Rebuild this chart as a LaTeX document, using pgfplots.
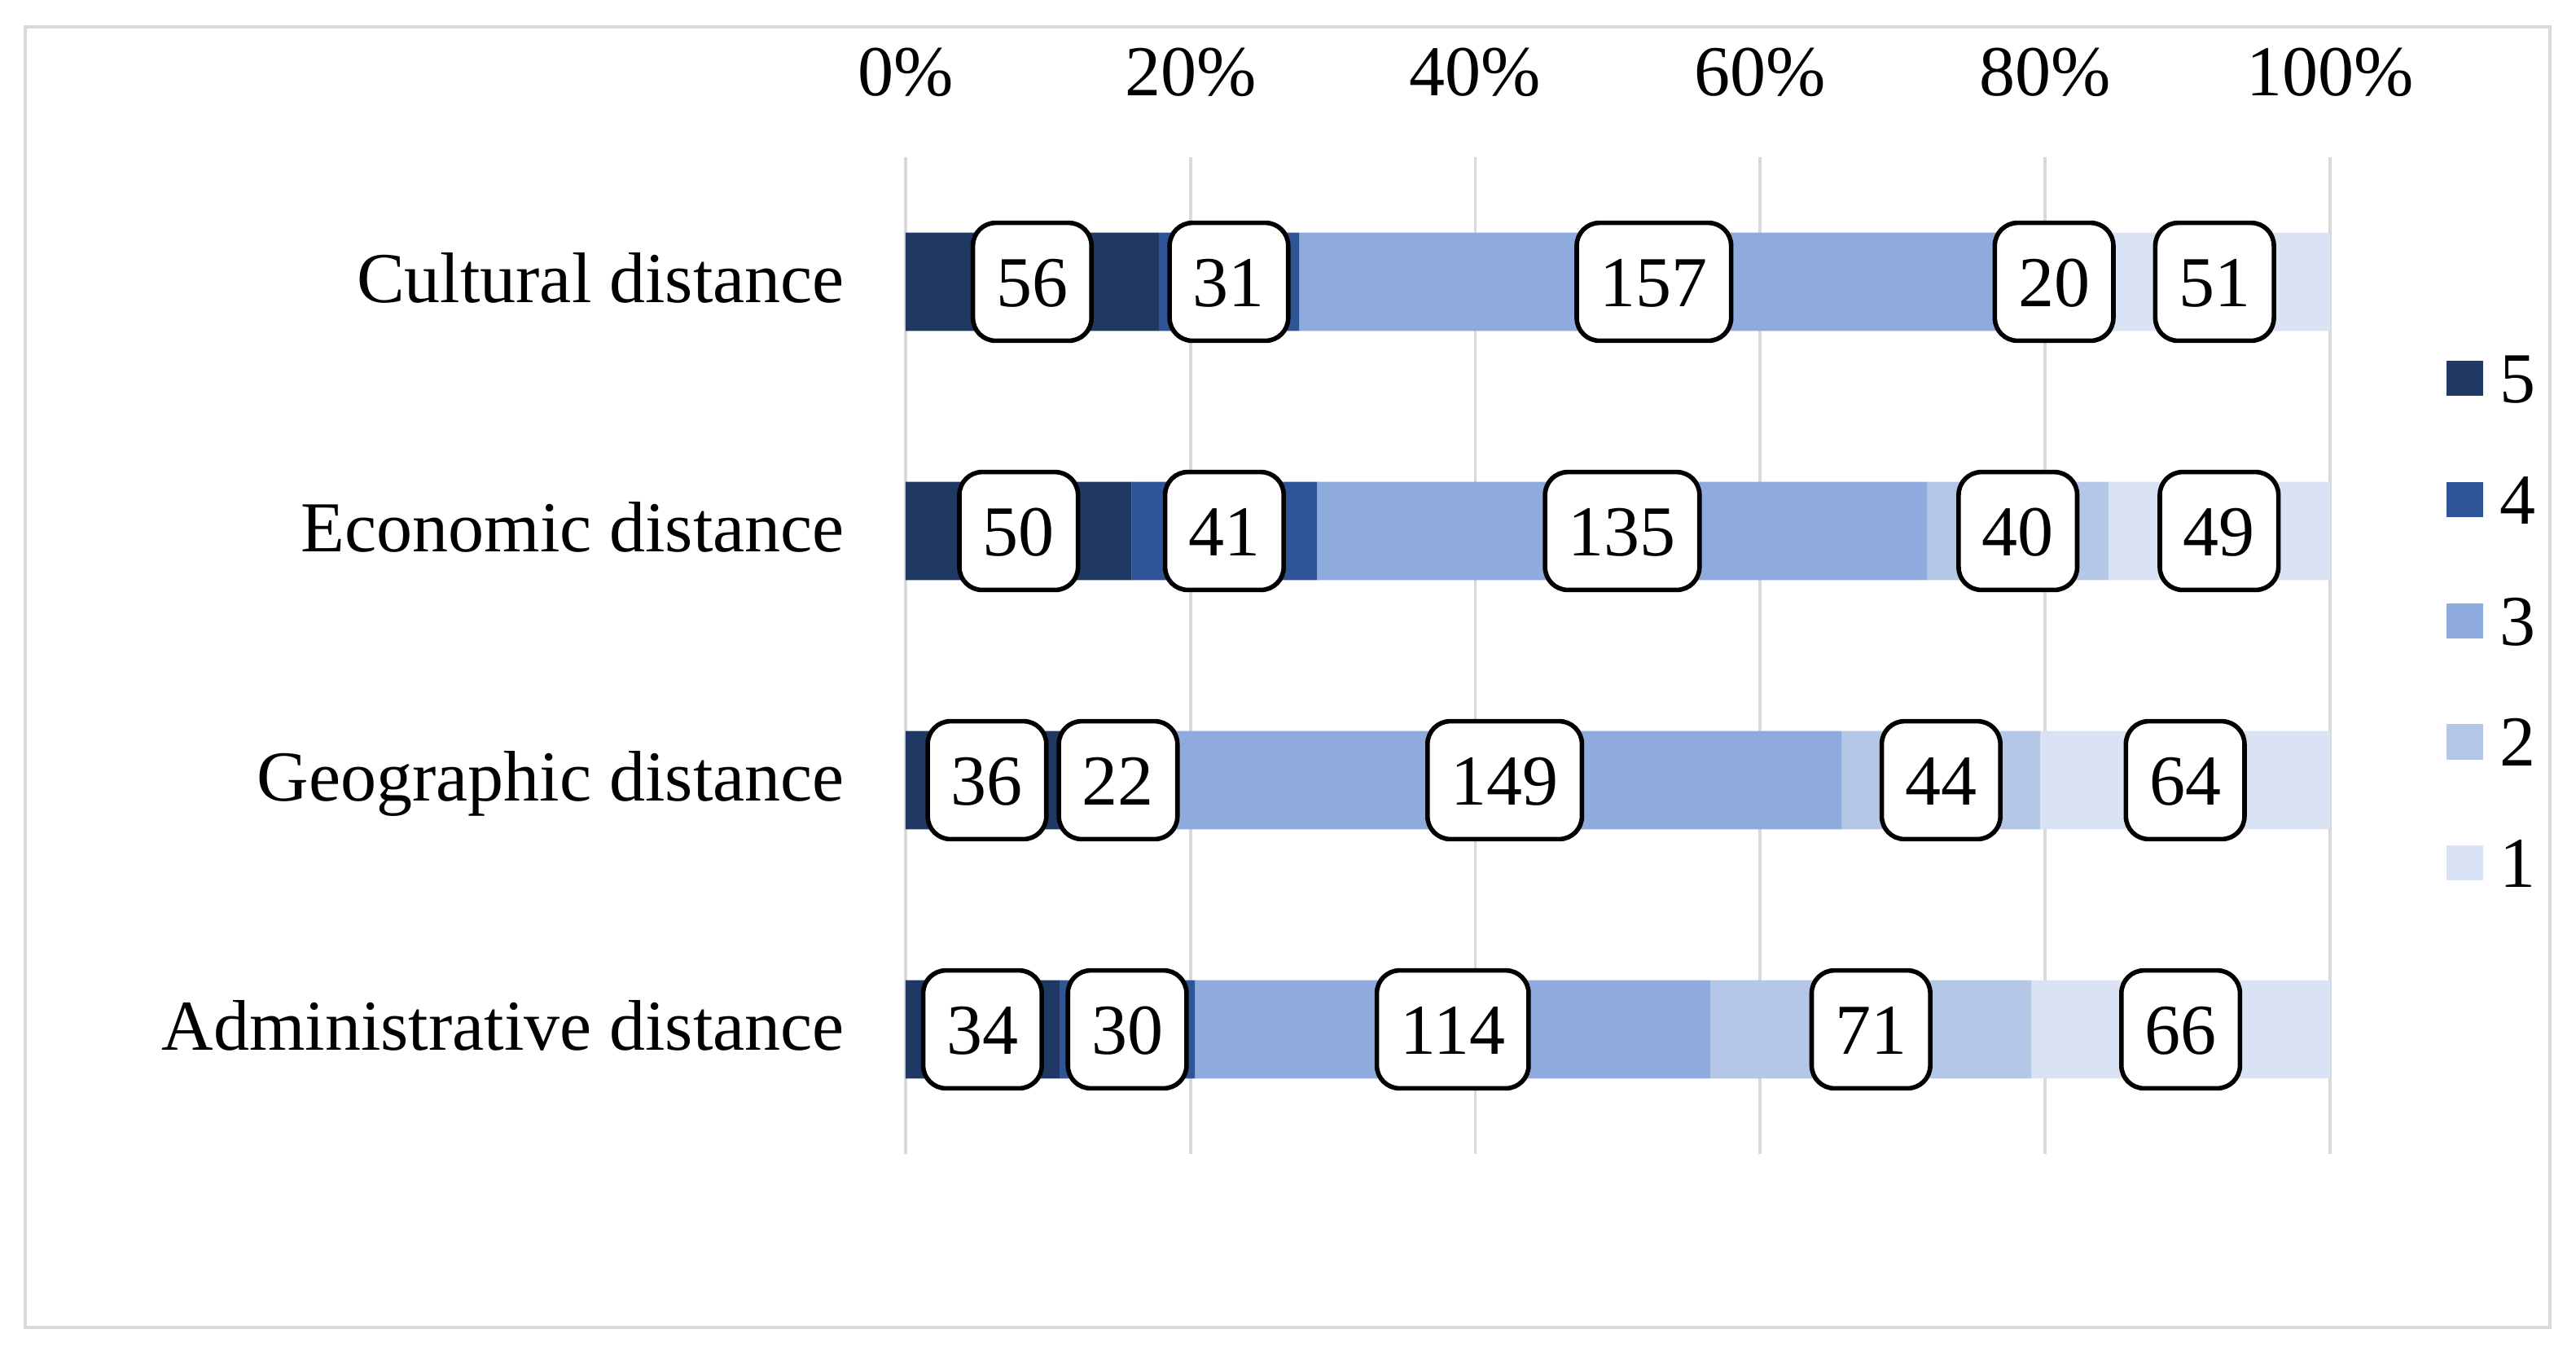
\documentclass[border=0pt]{standalone}
\usepackage{fontspec}
\setmainfont{Liberation Serif}
\usepackage{pgfplots}
\usepackage{pgfplotstable}
\pgfplotsset{compat=1.18}
\definecolor{c5}{HTML}{203864}
\definecolor{c4}{HTML}{2F5597}
\definecolor{c3}{HTML}{8FAADC}
\definecolor{c2}{HTML}{B4C7E7}
\definecolor{c1}{HTML}{DAE3F3}
\definecolor{gridgray}{HTML}{D9D9D9}
\pgfplotsset{myleg/.style={legend image code/.code={\fill[##1] (0pt,-2.7pt) rectangle (5.6pt,2.7pt);}}}
\pgfplotstableread{
idx v5 v4 v3 v2 v1
3 56 31 157 20 51
2 50 41 135 40 49
1 36 22 149 44 64
0 34 30 114 71 66
}\datatable
\begin{document}
\begin{tikzpicture}[font=\fontsize{11}{13}\selectfont]
\path[use as bounding box] (0pt,0pt) rectangle (395.375pt,208.625pt);
\draw[gridgray, line width=0.55pt] (3.9pt,4.9pt) rectangle (391.4pt,204.5pt);
\pgfplotsset{common/.style={at={(139pt,31.5pt)}, anchor=south west, scale only axis, width=218.6pt, height=153pt, xmin=0, xmax=315, ymin=-0.5, ymax=3.5}}
\begin{axis}[common, xbar stacked, bar width=15.1pt,
  axis line style={draw=none}, major tick length=0pt, tick style={draw=none},
  xtick={0,63,126,189,252,315}, xticklabels={0\%,20\%,40\%,60\%,80\%,100\%},
  xticklabel pos=upper, xticklabel style={anchor=base, inner sep=0pt, yshift=9.5pt},
  ytick={0,1,2,3}, yticklabels={Administrative distance,Geographic distance,Economic distance,Cultural distance},
  yticklabel style={anchor=base east, inner sep=0pt, xshift=-9.2pt, yshift=-3.2pt},
  xmajorgrids, ymajorgrids=false, grid style={gridgray, line width=0.45pt},
  legend style={at={(axis description cs:1.0819,0.535)}, anchor=west, draw=none, fill=none, inner sep=0pt, outer sep=0pt, column sep=2.6pt, row sep=11.1pt, nodes={inner sep=0pt, text height=7.5pt, text depth=0pt}},
  legend cell align=left]
\addplot[fill=c5, draw=none, myleg] table[x=v5, y=idx] {\datatable};
\addplot[fill=c4, draw=none, myleg] table[x=v4, y=idx] {\datatable};
\addplot[fill=c3, draw=none, myleg] table[x=v3, y=idx] {\datatable};
\addplot[fill=c2, draw=none, myleg] table[x=v2, y=idx] {\datatable};
\addplot[fill=c1, draw=none, myleg] table[x=v1, y=idx] {\datatable};
\legend{5,4,3,2,1}
\end{axis}
\begin{axis}[common, hide axis,
  every node near coord/.append style={anchor=center, draw=black, fill=white, text=black, line width=0.7pt, rounded corners=3.5pt, inner xsep=3.6pt, inner ysep=5.3pt, text height=7.5pt, text depth=0pt}]
\addplot[only marks, mark=none, nodes near coords, point meta=explicit symbolic] table[x expr=\thisrow{v5}/2, y=idx, meta=v5] {\datatable};
\addplot[only marks, mark=none, nodes near coords, point meta=explicit symbolic] table[x expr=\thisrow{v5}+\thisrow{v4}/2, y=idx, meta=v4] {\datatable};
\addplot[only marks, mark=none, nodes near coords, point meta=explicit symbolic] table[x expr=\thisrow{v5}+\thisrow{v4}+\thisrow{v3}/2, y=idx, meta=v3] {\datatable};
\addplot[only marks, mark=none, nodes near coords, point meta=explicit symbolic] table[x expr=\thisrow{v5}+\thisrow{v4}+\thisrow{v3}+\thisrow{v2}/2, y=idx, meta=v2] {\datatable};
\addplot[only marks, mark=none, nodes near coords, point meta=explicit symbolic] table[x expr=\thisrow{v5}+\thisrow{v4}+\thisrow{v3}+\thisrow{v2}+\thisrow{v1}/2, y=idx, meta=v1] {\datatable};
\end{axis}
\end{tikzpicture}
\end{document}
